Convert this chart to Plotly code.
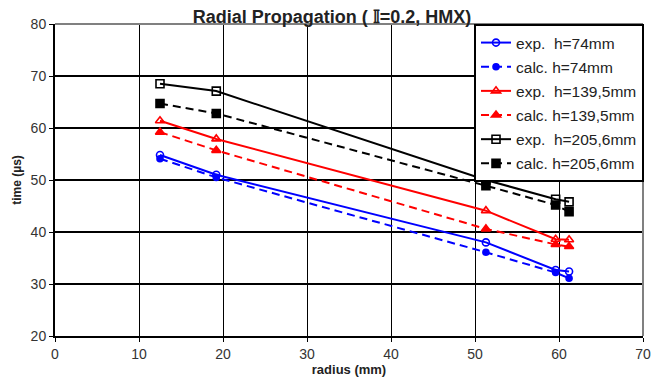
import plotly.graph_objects as go

radius = [12.5, 19.2, 51.3, 59.6, 61.2]
exp_74 = [54.8, 51.0, 38.0, 32.7, 32.4]
calc_74 = [54.1, 50.5, 36.1, 32.2, 31.1]
exp_139 = [61.4, 57.9, 44.1, 38.6, 38.5]
calc_139 = [59.2, 55.7, 40.6, 37.6, 37.2]
exp_205 = [68.5, 67.1, 50.0, 46.3, 45.8]
calc_205 = [64.7, 62.8, 48.9, 45.2, 43.9]

series = [
    ("exp.\u00a0 h=74mm", exp_74, "#0000FF", "solid", "circle-open", 7),
    ("calc. h=74mm", calc_74, "#0000FF", "8px,5px", "circle", 6),
    ("exp.\u00a0 h=139,5mm", exp_139, "#FF0000", "solid", "triangle-up-open", 8),
    ("calc. h=139,5mm", calc_139, "#FF0000", "8px,5px", "triangle-up", 8),
    ("exp.\u00a0 h=205,6mm", exp_205, "#000000", "solid", "square-open", 8),
    ("calc. h=205,6mm", calc_205, "#000000", "8px,5px", "square", 8),
]

fig = go.Figure()
for i, (name, ys, col, dash, sym, sz) in enumerate(series):
    fig.add_trace(go.Scatter(
        x=radius, y=ys, name=name, mode="lines+markers",
        line=dict(color=col, width=2, dash=dash),
        marker=dict(symbol=sym, size=sz, color=col, line=dict(color=col, width=1.6)),
        legendgroup=f"g{i}",
    ))

font = "Liberation Sans, Arial, sans-serif"
fig.update_layout(
    width=651, height=383,
    margin=dict(l=55, r=8, t=24, b=47, autoexpand=False),
    paper_bgcolor="white", plot_bgcolor="white",
    title=dict(text="<b>Radial Propagation ( \U0001D540=0.2, HMX)</b>", x=0.51, xanchor="center",
               y=0.956, yanchor="middle", font=dict(family=font, size=18, color="#222")),
    xaxis=dict(range=[0, 70], tickvals=[0, 10, 20, 30, 40, 50, 60, 70], automargin=False,
               showgrid=True, gridcolor="black", gridwidth=1, zeroline=False,
               showline=True, linecolor="black", linewidth=2, ticklabeloverflow="allow",
               ticks="outside", ticklen=4, tickcolor="black", tickwidth=1,
               tickfont=dict(family=font, size=14, color="#333"),
               title=dict(text="<b>radius (mm)</b>", standoff=2, font=dict(family=font, size=13, color="#222"))),
    yaxis=dict(range=[20, 80], tickvals=[20, 30, 40, 50, 60, 70, 80], automargin=False,
               showgrid=True, gridcolor="black", gridwidth=2, zeroline=False,
               showline=True, linecolor="black", linewidth=2, ticklabeloverflow="allow",
               ticks="outside", ticklen=4, tickcolor="black", tickwidth=1,
               tickfont=dict(family=font, size=14, color="#333"),
               title=dict(text="<b>time (µs)</b>", standoff=6, font=dict(family=font, size=12, color="#222"))),
    legend=dict(x=0.7126, y=1.0, xanchor="left", yanchor="top",
                bgcolor="white", bordercolor="black", borderwidth=2,
                font=dict(family=font, size=15.5, color="#222"),
                tracegroupgap=1, itemwidth=30),
    showlegend=True,
)
fig.add_shape(type="line", xref="paper", yref="paper", x0=0, x1=1, y0=1, y1=1,
              line=dict(color="#808080", width=2), layer="above")
fig.add_shape(type="line", xref="paper", yref="paper", x0=1, x1=1, y0=0, y1=1,
              line=dict(color="#808080", width=2), layer="above")

fig.write_html("out.html", config={"displayModeBar": False},
               post_script="document.body.style.margin='0';document.body.style.overflow='hidden';")
